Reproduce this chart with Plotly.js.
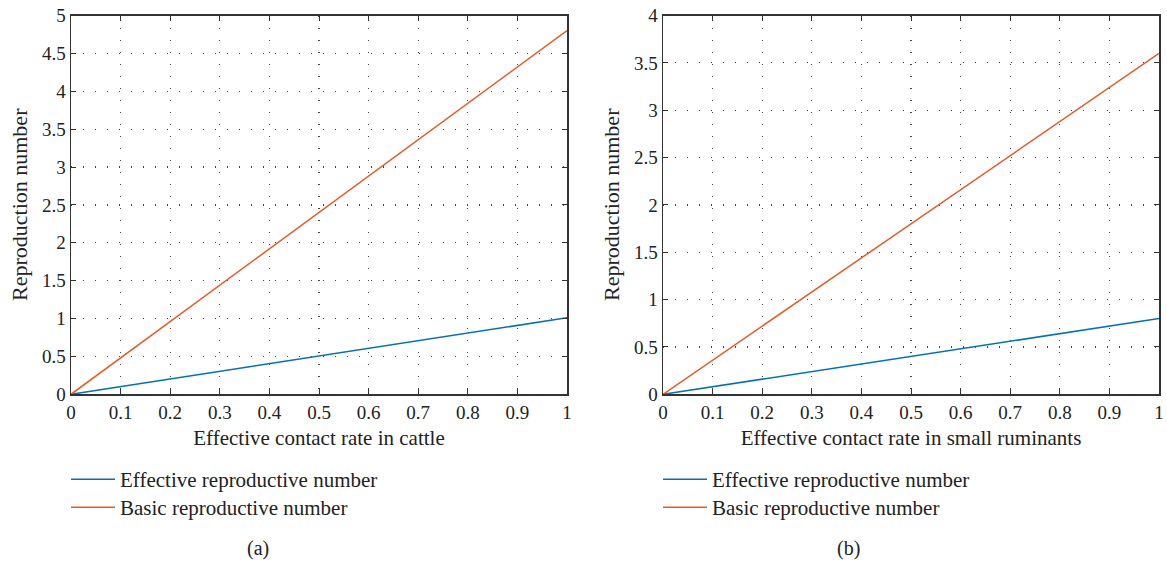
<!DOCTYPE html>
<html>
<head>
<meta charset="utf-8">
<script src="https://cdn.plot.ly/plotly-3.0.1.min.js"></script>
<style>html,body{margin:0;padding:0;background:#fff;}#chart{width:1167px;height:565px;}</style>
</head>
<body>
<div id="chart"></div>
<script>
// Data
const contactRate = [0, 1];
const cattleEffective = [0, 1.01];
const cattleBasic = [0, 4.8];
const smallEffective = [0, 0.8];
const smallBasic = [0, 3.6];
const seriesNames = ["Effective reproductive number", "Basic reproductive number"];
const xTicks = [0, 0.1, 0.2, 0.3, 0.4, 0.5, 0.6, 0.7, 0.8, 0.9, 1];
const yTicksA = [0, 0.5, 1, 1.5, 2, 2.5, 3, 3.5, 4, 4.5, 5];
const yTicksB = [0, 0.5, 1, 1.5, 2, 2.5, 3, 3.5, 4];
const yTitle = "Reproduction number";

const BLUE = "#0072BD", ORANGE = "#E95A25";
const FONT = "Liberation Serif";
const W = 1167, H = 565;
const TICK = 19, XTITLE = 21, YTITLE = 22, LEG = 21, PANEL = 20;

const traces = [
  {x: contactRate, y: cattleEffective, name: seriesNames[0], mode: "lines", line: {color: BLUE, width: 1.5}, xaxis: "x", yaxis: "y", legend: "legend"},
  {x: contactRate, y: cattleBasic, name: seriesNames[1], mode: "lines", line: {color: ORANGE, width: 1.5}, xaxis: "x", yaxis: "y", legend: "legend2"},
  {x: contactRate, y: smallEffective, name: seriesNames[0], mode: "lines", line: {color: BLUE, width: 1.5}, xaxis: "x2", yaxis: "y2", legend: "legend3"},
  {x: contactRate, y: smallBasic, name: seriesNames[1], mode: "lines", line: {color: ORANGE, width: 1.5}, xaxis: "x2", yaxis: "y2", legend: "legend4"}
];

function common() {
  return {
    ticks: "inside", ticklen: 5, tickwidth: 1, tickcolor: "#333", mirror: "allticks",
    showline: true, linecolor: "#333", linewidth: 1.5,
    showgrid: true, gridcolor: "#444", gridwidth: 1.2, griddash: "1.2px,10.8px",
    zeroline: false, tickfont: {family: FONT, size: TICK, color: "#222"}
  };
}
function xa(domain, title, anchor) {
  return Object.assign(common(), {
    domain: domain, anchor: anchor, range: [0, 1], tickvals: xTicks, ticktext: xTicks.map(String),
    title: {text: title, font: {family: FONT, size: XTITLE, color: "#222"}, standoff: 8}
  });
}
function ya(domain, ticks, range, anchor) {
  return Object.assign(common(), {
    domain: domain, anchor: anchor, range: range, tickvals: ticks, ticktext: ticks.map(String)
  });
}

const yDom = [1 - 394.3 / H, 1 - 15.5 / H];
const legCommon = {xanchor: "left", yanchor: "top", bgcolor: "rgba(0,0,0,0)",
  font: {family: FONT, size: LEG, color: "#222"}, tracegroupgap: 0, itemwidth: 44};
const ann = (text, x, y, size, angle) => ({text: text, xref: "paper", yref: "paper", x: x / W, y: 1 - y / H,
  showarrow: false, textangle: angle || 0, font: {family: FONT, size: size, color: "#222"},
  xanchor: "center", yanchor: "middle"});
const layout = {
  width: W, height: H,
  margin: {l: 0, r: 0, t: 0, b: 0},
  paper_bgcolor: "#fff", plot_bgcolor: "#fff",
  font: {family: FONT, color: "#222"},
  showlegend: true,
  xaxis: xa([71 / W, 567 / W], "Effective contact rate in cattle", "y"),
  yaxis: ya(yDom, yTicksA, [0, 5], "x"),
  xaxis2: xa([663 / W, 1159 / W], "Effective contact rate in small ruminants", "y2"),
  yaxis2: ya(yDom, yTicksB, [0, 4], "x2"),
  legend: Object.assign({x: 66 / W, y: 1 - 459 / H}, legCommon),
  legend2: Object.assign({x: 66 / W, y: 1 - 487 / H}, legCommon),
  legend3: Object.assign({x: 658 / W, y: 1 - 459 / H}, legCommon),
  legend4: Object.assign({x: 658 / W, y: 1 - 487 / H}, legCommon),
  annotations: [
    ann(yTitle, 19, 205, YTITLE, -90),
    ann(yTitle, 611, 205, YTITLE, -90),
    ann("(a)", 258, 548, PANEL),
    ann("(b)", 848, 548, PANEL)
  ]
};

Plotly.newPlot("chart", traces, layout, {displayModeBar: false, staticPlot: true});
</script>
</body>
</html>
